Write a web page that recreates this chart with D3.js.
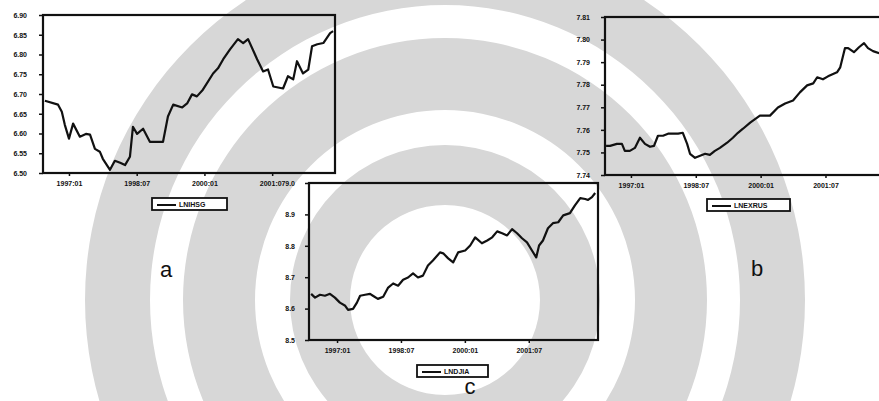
<!DOCTYPE html>
<html>
<head>
<meta charset="utf-8">
<script src="https://cdn.jsdelivr.net/npm/d3@7"></script>
<style>
  html, body { margin: 0; padding: 0; background: #fff; }
  svg { display: block; }
  .tick text { font-family: "Liberation Sans", Arial, sans-serif; font-size: 7px; font-weight: bold; fill: #111; }
  .legend text { font-family: "Liberation Sans", Arial, sans-serif; font-size: 7px; font-weight: bold; fill: #111; }
  .panel-letter { font-family: "Liberation Sans", Arial, sans-serif; font-size: 22px; fill: #111; }
</style>
</head>
<body>
<script>
// Shared time axis: months relative to January 1997
const xTickMonths = [0, 18, 36, 54];
const xTickLabels = ["1997:01", "1998:07", "2000:01", "2001:07"];

// (a) LNIHSG
const monthsA = [-6.4, -2.9, -1.9, -1.1, 0, 1.1, 2.9, 4.5, 5.6, 6.9, 8.2, 9.0, 10.9, 12.2, 13.6, 14.9, 16.2, 17.0, 18.1, 19.7, 21.5, 25.0, 26.3, 27.7, 30.1, 31.4, 32.7, 34.0, 35.6, 38.3, 39.6, 41.0, 42.8, 44.9, 46.3, 47.6, 50.0, 51.6, 52.9, 54.3, 56.9, 58.2, 59.6, 60.6, 62.2, 63.6, 64.6, 66.0, 67.6, 69.4, 70.2];
const valuesA = [6.683, 6.673, 6.655, 6.622, 6.587, 6.625, 6.592, 6.599, 6.597, 6.561, 6.554, 6.536, 6.508, 6.531, 6.526, 6.520, 6.541, 6.617, 6.599, 6.612, 6.579, 6.579, 6.643, 6.673, 6.666, 6.676, 6.699, 6.694, 6.711, 6.752, 6.765, 6.788, 6.813, 6.839, 6.829, 6.839, 6.788, 6.757, 6.762, 6.719, 6.714, 6.745, 6.737, 6.783, 6.752, 6.762, 6.821, 6.826, 6.829, 6.854, 6.859];
const yTicksA = [6.50, 6.55, 6.60, 6.65, 6.70, 6.75, 6.80, 6.85, 6.90];

// (b) LNEXRUS
const monthsB = [-6.9, -5.8, -3.9, -2.5, -1.7, -0.3, 1.1, 2.5, 3.9, 5.3, 6.4, 7.5, 8.9, 10.3, 11.7, 13.1, 14.4, 15.6, 16.4, 17.8, 19.2, 20.6, 21.9, 23.3, 24.7, 26.7, 28.3, 29.7, 31.1, 33.1, 35.8, 38.6, 40.8, 42.8, 45.0, 46.9, 48.9, 50.6, 51.7, 53.3, 54.7, 57.2, 58.1, 59.4, 60.3, 61.9, 63.3, 64.7, 65.8, 67.2, 68.9];
const valuesB = [7.7529, 7.7529, 7.7538, 7.7538, 7.7507, 7.7507, 7.7520, 7.7565, 7.7538, 7.7525, 7.7529, 7.7574, 7.7574, 7.7583, 7.7583, 7.7583, 7.7587, 7.7538, 7.7494, 7.7476, 7.7485, 7.7494, 7.7489, 7.7507, 7.7520, 7.7543, 7.7565, 7.7587, 7.7605, 7.7632, 7.7663, 7.7663, 7.7699, 7.7717, 7.7730, 7.7766, 7.7797, 7.7806, 7.7833, 7.7824, 7.7837, 7.7855, 7.7877, 7.7962, 7.7962, 7.7944, 7.7966, 7.7984, 7.7962, 7.7949, 7.7940];
const yTicksB = [7.74, 7.75, 7.76, 7.77, 7.78, 7.79, 7.80, 7.81];

// (c) LNDJIA
const monthsC = [-7.3, -6.2, -4.8, -3.4, -2.0, -0.6, 0.8, 2.3, 3.1, 4.5, 5.6, 6.5, 7.9, 9.3, 10.1, 11.5, 13.0, 14.4, 15.8, 17.2, 18.6, 20.0, 21.4, 22.8, 24.2, 25.6, 27.0, 29.0, 29.9, 31.3, 32.7, 34.1, 36.1, 37.5, 38.9, 40.8, 42.3, 43.7, 45.1, 46.5, 47.9, 49.3, 50.7, 52.1, 53.5, 54.9, 56.1, 56.9, 58.0, 59.4, 60.8, 62.3, 63.7, 65.6, 67.0, 68.5, 69.9, 70.7, 71.8, 72.7];
const valuesC = [8.647, 8.635, 8.644, 8.641, 8.647, 8.635, 8.619, 8.609, 8.596, 8.599, 8.619, 8.641, 8.644, 8.647, 8.641, 8.631, 8.638, 8.667, 8.680, 8.673, 8.692, 8.699, 8.712, 8.699, 8.705, 8.737, 8.753, 8.779, 8.776, 8.760, 8.747, 8.779, 8.785, 8.801, 8.827, 8.808, 8.817, 8.827, 8.846, 8.840, 8.833, 8.853, 8.840, 8.824, 8.811, 8.785, 8.763, 8.801, 8.817, 8.856, 8.872, 8.875, 8.897, 8.904, 8.929, 8.952, 8.949, 8.946, 8.955, 8.968];
const yTicksC = [8.5, 8.6, 8.7, 8.8, 8.9, 9.0];

const W = 879, H = 401;
const svg = d3.select("body").append("svg").attr("width", W).attr("height", H);

// Faint emblem in the page background: concentric grey bands
const bg = svg.append("g").attr("transform", "translate(445,300)");
const bands = [[95, 155], [190, 262], [295, 360]];
const ring = d3.arc().startAngle(0).endAngle(2 * Math.PI);
bg.selectAll("path").data(bands).join("path")
  .attr("d", d => ring({ innerRadius: d[0], outerRadius: d[1] }))
  .attr("fill", "#d7d7d7");

// One framed time-series panel
function panel(cfg) {
  const x = d3.scaleLinear().domain(cfg.xDomain).range([cfg.left, cfg.right]);
  const y = d3.scaleLinear().domain(cfg.yDomain).range([cfg.bottom, cfg.top]);
  const g = svg.append("g");

  g.append("g")
    .attr("transform", `translate(${cfg.left},0)`)
    .call(d3.axisLeft(y).tickValues(cfg.yTicks).tickSize(4).tickPadding(cfg.yPad)
      .tickFormat(cfg.yFormat))
    .call(a => a.select(".domain").remove())
    .call(a => a.selectAll("line").attr("stroke", "#111").attr("stroke-width", 1.5));

  g.append("g")
    .attr("transform", `translate(0,${cfg.bottom})`)
    .call(d3.axisBottom(x).tickValues(xTickMonths).tickSize(3).tickPadding(5)
      .tickFormat((d, i) => xTickLabels[i]))
    .call(a => a.select(".domain").remove())
    .call(a => a.selectAll("line").attr("stroke", "#111").attr("stroke-width", 1.5));

  g.append("rect")
    .attr("x", cfg.left).attr("y", cfg.top)
    .attr("width", cfg.right - cfg.left).attr("height", cfg.bottom - cfg.top)
    .attr("fill", "none").attr("stroke", "#111").attr("stroke-width", 2.2);

  const pts = cfg.months.map((m, i) => [m, cfg.values[i]]);
  g.append("path")
    .datum(pts)
    .attr("fill", "none").attr("stroke", "#111").attr("stroke-width", 2.2)
    .attr("stroke-linejoin", "round")
    .attr("d", d3.line().x(d => x(d[0])).y(d => y(d[1])));

  // legend box
  const lg = g.append("g").attr("class", "legend");
  lg.append("rect")
    .attr("x", cfg.legend[0]).attr("y", cfg.legend[1])
    .attr("width", cfg.legend[2]).attr("height", 12)
    .attr("fill", "#fff").attr("stroke", "#111").attr("stroke-width", 1.8);
  lg.append("line")
    .attr("x1", cfg.legend[0] + 5).attr("x2", cfg.legend[0] + 24)
    .attr("y1", cfg.legend[1] + 7).attr("y2", cfg.legend[1] + 7)
    .attr("stroke", "#111").attr("stroke-width", 2);
  lg.append("text")
    .attr("x", cfg.legend[0] + 27).attr("y", cfg.legend[1] + 9)
    .text(cfg.name);

  svg.append("text").attr("class", "panel-letter")
    .attr("x", cfg.letter[0]).attr("y", cfg.letter[1])
    .attr("text-anchor", "middle")
    .text(cfg.letterText);
}

panel({
  name: "LNIHSG", letterText: "a", letter: [166, 277],
  months: monthsA, values: valuesA, yTicks: yTicksA, yFormat: d3.format(".2f"), yPad: 12,
  left: 43, right: 335, top: 15, bottom: 173,
  xDomain: [-6.9, 70.7], yDomain: [6.50, 6.90],
  legend: [152, 198, 75]
});

panel({
  name: "LNEXRUS", letterText: "b", letter: [757, 276],
  months: monthsB, values: valuesB, yTicks: yTicksB, yFormat: d3.format(".2f"), yPad: 11,
  left: 605, right: 886, top: 17, bottom: 175,
  xDomain: [-7.2, 70.8], yDomain: [7.74, 7.81],
  legend: [707, 199, 83]
});

panel({
  name: "LNDJIA", letterText: "c", letter: [470, 394],
  months: monthsC, values: valuesC, yTicks: yTicksC, yFormat: d3.format(".1f"), yPad: 10,
  left: 309, right: 598, top: 183, bottom: 340,
  xDomain: [-7.9, 73.5], yDomain: [8.5, 9.0],
  legend: [417, 365, 71]
});
</script>
</body>
</html>
